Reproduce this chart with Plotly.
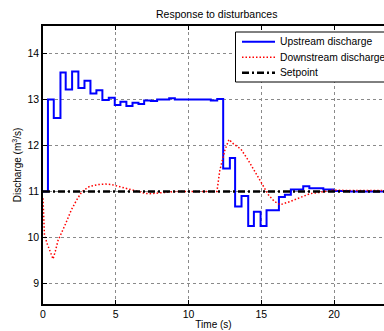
import plotly.graph_objects as go

# Upstream discharge (step signal)
up_t = [0, 0.34, 0.74, 1.2, 1.56, 2.0, 2.43, 2.85, 3.26, 3.67, 4.08, 4.52, 4.93, 5.32,
        5.73, 6.15, 6.56, 6.95, 7.41, 7.84, 8.67, 9.06, 11.53, 11.97, 12.38, 12.84, 13.2,
        13.64, 14.1, 14.49, 14.95, 15.36, 16.21, 16.62, 17.03, 17.88, 18.3, 19.26, 19.95,
        21.1, 23.5]
up_q = [11.0, 13.0, 12.6, 13.59, 13.22, 13.61, 13.25, 13.41, 13.13, 13.2, 12.99, 13.04,
        12.88, 12.95, 12.86, 12.93, 12.9, 12.98, 12.97, 13.0, 13.03, 13.0, 12.98, 13.01,
        11.5, 11.73, 10.67, 10.9, 10.25, 10.56, 10.25, 10.59, 10.88, 10.93, 11.04, 11.11,
        11.07, 11.04, 11.01, 11.0, 11.0]

# Downstream discharge
dn_t = [0, 0.1, 0.3, 0.5, 0.69, 0.85, 1.03, 1.49, 1.95, 2.29, 2.64, 3.0, 3.21, 3.78, 4.3,
        4.7, 5.16, 5.74, 6.42, 7.0, 7.34, 7.8, 8.26, 9.17, 11.95, 12.15, 12.5, 12.78, 13.07,
        13.6, 14.1, 14.56, 15.02, 15.5, 15.9, 16.3, 16.97, 17.65, 18.34, 19.03, 19.95,
        20.9, 23.5]
dn_q = [10.85, 10.05, 9.85, 9.68, 9.53, 9.7, 9.93, 10.25, 10.6, 10.8, 10.98, 11.07, 11.11,
        11.15, 11.16, 11.15, 11.11, 11.06, 11.0, 10.96, 10.95, 10.96, 10.97, 11.0, 11.0,
        11.46, 11.9, 12.13, 12.04, 11.92, 11.68, 11.43, 11.16, 10.92, 10.78, 10.71, 10.78,
        10.87, 10.95, 10.98, 11.03, 11.02, 11.02]

# Setpoint
sp_t = [0, 23.5]
sp_q = [11.0, 11.0]

x_ticks = [0, 5, 10, 15, 20]
y_ticks = [9, 10, 11, 12, 13, 14]

series_names = ["Upstream discharge", "Downstream discharge", "Setpoint"]
series_colors = ["#0000ff", "#ff0000", "black"]
series_widths = [2, 1.5, 2.5]
series_dashes = ["solid", "1.5px,2px", "7px,3px,2px,3px"]

FONT = "Arial, Liberation Sans, sans-serif"

fig = go.Figure()
fig.add_trace(go.Scatter(x=up_t, y=up_q, mode="lines", line_shape="hv", name=series_names[0],
                         line=dict(color=series_colors[0], width=series_widths[0],
                                   dash=series_dashes[0])))
fig.add_trace(go.Scatter(x=dn_t, y=dn_q, mode="lines", name=series_names[1],
                         line=dict(color=series_colors[1], width=series_widths[1],
                                   dash=series_dashes[1])))
fig.add_trace(go.Scatter(x=sp_t, y=sp_q, mode="lines", name=series_names[2],
                         line=dict(color=series_colors[2], width=series_widths[2],
                                   dash=series_dashes[2])))

# Legend box drawn in paper coordinates (MATLAB-like compact legend)
L, T, B = 43, 26, 304
W, H = 341, B - T
def px(xp):
    return (xp - L) / W
def py(yp):
    return (B - yp) / H

shapes = [dict(type="rect", xref="paper", yref="paper", x0=px(235.5), x1=px(392),
               y0=py(82), y1=py(32), line=dict(color="black", width=1),
               fillcolor="white", layer="above")]
annotations = []
rows = [41.8, 57.3, 72.8]
for name, col, wd, ds, r in zip(series_names, series_colors, series_widths, series_dashes, rows):
    shapes.append(dict(type="line", xref="paper", yref="paper", x0=px(242), x1=px(275),
                       y0=py(r), y1=py(r), line=dict(color=col, width=wd, dash=ds),
                       layer="above"))
    annotations.append(dict(text=name, xref="paper", yref="paper", x=px(278), y=py(r),
                            xanchor="left", yanchor="middle", showarrow=False,
                            font=dict(size=10.3, family=FONT, color="black")))

fig.update_layout(
    width=384, height=331,
    margin=dict(l=L, r=0, t=T, b=331 - B, autoexpand=False),
    paper_bgcolor="white", plot_bgcolor="white",
    font=dict(family=FONT, size=10.5, color="black"),
    showlegend=False,
    shapes=shapes, annotations=annotations,
    title=dict(text="Response to disturbances", x=216.7 / 384, xref="container",
               xanchor="center", y=1 - 14 / 331, yref="container", yanchor="middle",
               font=dict(size=10.5, family=FONT, color="black")),
    xaxis=dict(range=[0, 23.43], tickvals=x_ticks, ticks="inside", ticklen=4,
               tickcolor="black", showline=True, linecolor="black", linewidth=1.5,
               mirror="ticks", showgrid=True, gridcolor="#8a8a8a", griddash="dot",
               gridwidth=1, zeroline=False,
               title=dict(text="Time (s)", standoff=2, font=dict(size=10))),
    yaxis=dict(range=[8.55, 14.6], tickvals=y_ticks, ticks="inside", ticklen=4,
               tickcolor="black", showline=True, linecolor="black", linewidth=1.5,
               mirror=False, showgrid=True, gridcolor="#8a8a8a", griddash="dot",
               gridwidth=1, zeroline=False,
               title=dict(text="Discharge (m<sup>3</sup>/s)", standoff=4,
                          font=dict(size=10))),
)

fig.write_html("out.html")
